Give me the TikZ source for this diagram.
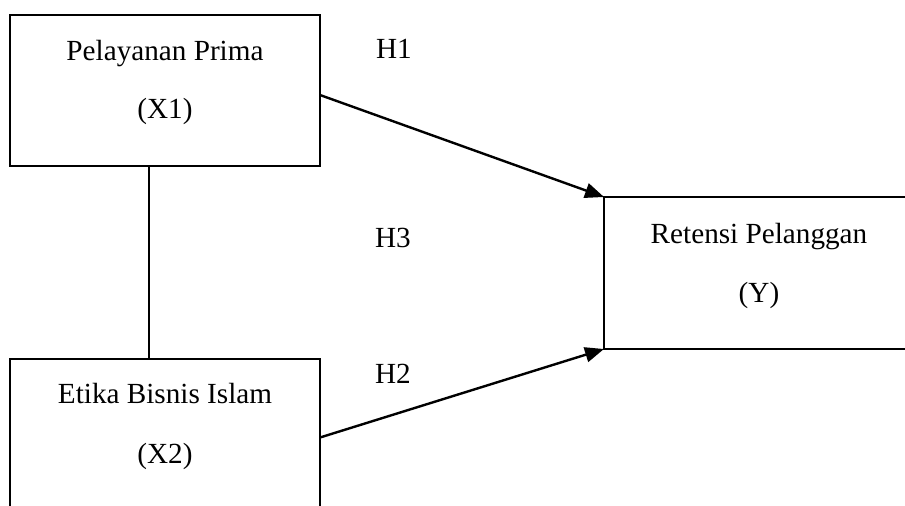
\documentclass[tikz,border=0pt]{standalone}
\usepackage{fontspec}
\setmainfont{Liberation Serif}
\usetikzlibrary{arrows.meta}
\tikzset{
  box/.style={draw, line width=2pt, inner sep=0pt, outer sep=0pt, minimum width=310pt},
  txt/.style={anchor=base, inner sep=0pt, font=\fontsize{29.2}{35}\selectfont},
  arr/.style={line width=2.4pt, -{Triangle[length=19pt,width=15pt]}},
  link/.style={line width=2pt}
}
\begin{document}
\begin{tikzpicture}[x=1pt,y=-1pt]
\useasboundingbox (0,0) rectangle (905,506);
\clip (0,0) rectangle (905,506);
\fill[white] (0,0) rectangle (905,506);
\node[box, minimum height=151pt] (x1) at (165,90.5) {};
\node[box, minimum height=151pt] (x2) at (165,434.5) {};
\node[box, minimum height=152pt] (y) at (759,273) {};
\node[txt] (x1a) at (165,60) {Pelayanan Prima};
\node[txt] (x1b) at (165,118) {(X1)};
\node[txt] (x2a) at (165,403) {Etika Bisnis Islam};
\node[txt] (x2b) at (165,463) {(X2)};
\node[txt] (ya) at (759,243) {Retensi Pelanggan};
\node[txt] (yb) at (759,302) {(Y)};
\node[txt] (h1) at (394,58) {H1};
\node[txt] (h3) at (393,247) {H3};
\node[txt] (h2) at (393,383) {H2};
\draw[arr] ([yshift=-4.5pt]x1.east) -- (y.north west);
\draw[arr] ([yshift=-3pt]x2.east) -- (y.south west);
\draw[link] ([xshift=-16pt]x1.south) -- ([xshift=-16pt]x2.north);
\end{tikzpicture}
\end{document}
